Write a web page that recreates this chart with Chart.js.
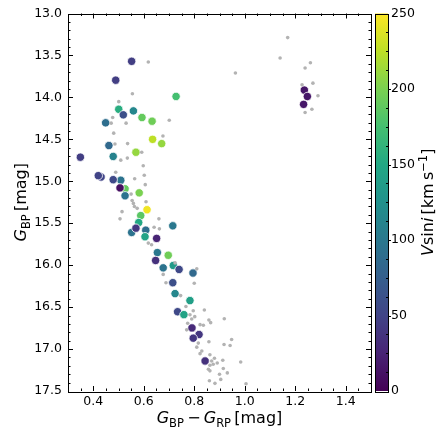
<!DOCTYPE html>
<html>
<head>
<meta charset="utf-8">
<script src="https://cdn.jsdelivr.net/npm/chart.js@4.4.1/dist/chart.umd.min.js"></script>
<style>
  html, body { margin: 0; padding: 0; background: #fff; }
  canvas { display: block; }
</style>
</head>
<body>
<canvas id="cmdChart" width="436" height="436"></canvas>
<script>
// axis ticks
const xTicks = [0.4, 0.6, 0.8, 1.0, 1.2, 1.4];
const yTicks = [13.0, 13.5, 14.0, 14.5, 15.0, 15.5, 16.0, 16.5, 17.0, 17.5];
const cbarTicks = [0, 50, 100, 150, 200, 250];

// field stars (grey)
const grayX = [0.618, 0.555, 0.501, 0.477, 0.701, 0.471, 0.530, 0.481, 0.676, 0.536,
    0.486, 0.592, 0.509, 0.535, 0.598, 0.489, 0.564, 0.602, 0.606, 0.550,
    0.609, 0.559, 0.554, 0.563, 0.574, 0.514, 0.506, 0.660, 0.641, 0.662,
    0.618, 0.631, 0.724, 0.677, 0.810, 0.800, 0.688, 0.746, 0.767, 0.796,
    0.840, 0.783, 0.802, 0.790, 0.774, 0.823, 0.858, 0.865, 0.919, 0.770,
    0.836, 0.816, 0.858, 0.810, 0.830, 0.823, 0.918, 0.942, 0.948, 0.862,
    0.869, 0.875, 0.891, 0.913, 0.862, 0.856, 0.862, 0.915, 0.931, 0.984,
    0.905, 0.860, 0.882, 1.005, 0.963, 1.170, 1.140, 1.260, 1.239, 1.270,
    1.227, 1.290, 1.266, 1.239, 0.900, 0.880];
const grayY = [13.579, 13.957, 14.051, 14.240, 14.272, 14.307, 14.307, 14.426, 14.461, 14.551,
    14.555, 14.654, 14.748, 14.724, 14.815, 14.893, 14.969, 14.929, 15.040, 15.153,
    15.244, 15.264, 15.230, 15.300, 15.323, 15.362, 15.448, 15.448, 15.548, 15.567,
    15.737, 15.756, 15.973, 16.110, 16.044, 16.216, 16.209, 16.363, 16.492, 16.543,
    16.535, 16.591, 16.614, 16.641, 16.693, 16.709, 16.653, 16.685, 16.638, 16.771,
    16.717, 16.929, 16.913, 16.977, 17.024, 17.055, 16.945, 16.957, 16.886, 17.067,
    17.142, 17.181, 17.166, 17.134, 17.193, 17.240, 17.260, 17.232, 17.284, 17.154,
    17.362, 17.378, 17.409, 17.414, 13.709, 13.287, 13.531, 13.587, 13.650, 13.830,
    13.850, 13.980, 14.142, 14.181, 17.300, 17.110];

// members with measured rotation (Vsini, km/s)
const starX = [0.431, 0.819, 0.526, 0.552, 0.489, 0.728, 0.501, 0.559, 0.519, 0.593,
    0.633, 0.449, 0.635, 0.671, 0.462, 0.569, 0.349, 0.479, 0.420, 0.509,
    0.479, 0.506, 0.526, 0.582, 0.613, 0.588, 0.580, 0.715, 0.552, 0.569,
    0.608, 0.605, 0.651, 0.654, 0.697, 0.647, 0.717, 0.677, 0.740, 0.795,
    0.715, 0.724, 0.783, 0.734, 0.759, 0.791, 0.796, 0.843, 1.236, 1.248,
    1.233];
const starY = [14.949, 16.827, 15.090, 13.570, 13.795, 13.989, 14.142, 14.161, 14.208, 14.240,
    14.284, 14.303, 14.500, 14.551, 14.574, 14.654, 14.713, 14.704, 14.933, 14.988,
    14.981, 15.079, 15.173, 15.138, 15.339, 15.409, 15.492, 15.531, 15.610, 15.559,
    15.583, 15.661, 15.681, 15.850, 15.882, 15.944, 16.004, 16.032, 16.051, 16.094,
    16.209, 16.339, 16.422, 16.555, 16.590, 16.748, 16.870, 17.142, 13.913, 13.989,
    14.083];
const starVsini = [50, 40, 190, 45, 45, 175, 155, 115, 60, 190,
    195, 90, 225, 210, 85, 210, 45, 110, 50, 95,
    55, 10, 95, 200, 245, 185, 150, 100, 95, 40,
    90, 145, 25, 100, 195, 35, 135, 95, 55, 85,
    60, 115, 140, 55, 145, 30, 40, 35, 15, 15,
    15];

const VMAX = 250;
const VIRIDIS = ['#440154', '#482475', '#414487', '#355f8d', '#2a788e', '#21918c',
    '#22a884', '#44bf70', '#7ad151', '#bddf26', '#fde725'];

function hexToRgb(h) {
    return [parseInt(h.slice(1, 3), 16), parseInt(h.slice(3, 5), 16), parseInt(h.slice(5, 7), 16)];
}

function viridis(t) {
    t = Math.max(0, Math.min(1, t));
    const f = t * (VIRIDIS.length - 1);
    const i = Math.min(Math.floor(f), VIRIDIS.length - 2);
    const a = hexToRgb(VIRIDIS[i]), b = hexToRgb(VIRIDIS[i + 1]);
    const k = f - i;
    const c = a.map((v, j) => Math.round(v + (b[j] - v) * k));
    return `rgb(${c[0]}, ${c[1]}, ${c[2]})`;
}

const FONT = "'DejaVu Sans', sans-serif";

// draw a row of text pieces (for sub/superscripts), centred on x
function drawRich(ctx, parts, x, y) {
    let total = 0;
    parts.forEach(p => { ctx.font = p.font; total += ctx.measureText(p.t).width; });
    let cx = x - total / 2;
    ctx.textAlign = 'left';
    ctx.textBaseline = 'alphabetic';
    parts.forEach(p => {
        ctx.font = p.font;
        ctx.fillText(p.t, cx, y + (p.dy || 0));
        cx += ctx.measureText(p.t).width;
    });
}

const main = `16px ${FONT}`;
const ital = `italic 16px ${FONT}`;
const small = `11.5px ${FONT}`;

const framePlugin = {
    id: 'frame',
    afterDraw(chart) {
        const ctx = chart.ctx;
        const a = chart.chartArea;
        const xs = chart.scales.x, ys = chart.scales.y;
        ctx.save();
        ctx.strokeStyle = '#000';
        ctx.lineWidth = 1;

        // inward ticks on all four sides
        ctx.beginPath();
        for (let i = 1; i < 24; i++) {
            const v = 0.3 + i * 0.05;
            const px = Math.round(xs.getPixelForValue(v)) + 0.5;
            const major = xTicks.some(t => Math.abs(t - v) < 1e-6);
            const len = major ? 5 : 2.5;
            ctx.moveTo(px, a.bottom); ctx.lineTo(px, a.bottom - len);
            ctx.moveTo(px, a.top); ctx.lineTo(px, a.top + len);
        }
        for (let i = 1; i < 45; i++) {
            const v = 13 + i * 0.1;
            const py = Math.round(ys.getPixelForValue(v)) + 0.5;
            const major = yTicks.some(t => Math.abs(t - v) < 1e-6);
            const len = major ? 5 : 2.5;
            ctx.moveTo(a.left, py); ctx.lineTo(a.left + len, py);
            ctx.moveTo(a.right, py); ctx.lineTo(a.right - len, py);
        }
        ctx.stroke();
        ctx.strokeRect(Math.round(a.left) + 0.5, Math.round(a.top) + 0.5,
            Math.round(a.right - a.left), Math.round(a.bottom - a.top));

        // colour bar
        const cbL = 375, cbR = 388;
        const cbY = v => a.bottom - (v / VMAX) * (a.bottom - a.top);
        const grad = ctx.createLinearGradient(0, a.bottom, 0, a.top);
        VIRIDIS.forEach((c, i) => grad.addColorStop(i / (VIRIDIS.length - 1), c));
        ctx.fillStyle = grad;
        ctx.fillRect(cbL, a.top, cbR - cbL, a.bottom - a.top);
        ctx.strokeRect(cbL + 0.5, Math.round(a.top) + 0.5, cbR - cbL, Math.round(a.bottom - a.top));
        ctx.beginPath();
        for (let v = 12.5; v < VMAX; v += 12.5) {
            const py = Math.round(cbY(v)) + 0.5;
            if (v % 50 === 0) {
                ctx.moveTo(cbR, py); ctx.lineTo(cbR + 3, py);
            } else {
                ctx.moveTo(cbR, py); ctx.lineTo(cbR - 2, py);
            }
        }
        ctx.stroke();
        ctx.fillStyle = '#000';
        ctx.font = `12.5px ${FONT}`;
        ctx.textAlign = 'left';
        ctx.textBaseline = 'middle';
        cbarTicks.forEach(v => ctx.fillText(String(v), 391, cbY(v)));

        // axis labels
        ctx.fillStyle = '#000';
        drawRich(ctx, [
            { t: 'G', font: ital }, { t: 'BP', font: small, dy: 3.5 },
            { t: '\u2009\u2212\u2009', font: main }, { t: 'G', font: ital }, { t: 'RP', font: small, dy: 3.5 },
            { t: '\u2009[mag]', font: main }
        ], (a.left + a.right) / 2, 423);

        ctx.save();
        ctx.translate(26, (a.top + a.bottom) / 2);
        ctx.rotate(-Math.PI / 2);
        drawRich(ctx, [
            { t: 'G', font: ital }, { t: 'BP', font: small, dy: 3.5 }, { t: '\u2009[mag]', font: main }
        ], 0, 0);
        ctx.restore();

        ctx.save();
        ctx.translate(433, (a.top + a.bottom) / 2);
        ctx.rotate(-Math.PI / 2);
        drawRich(ctx, [
            { t: 'V', font: ital }, { t: 'sin', font: main }, { t: 'i', font: ital },
            { t: '\u2009[km\u2009s', font: main }, { t: '\u22121', font: small, dy: -6 }, { t: ']', font: main }
        ], 0, 0);
        ctx.restore();

        ctx.restore();
    }
};

const grayPoints = grayX.map((x, i) => ({ x: x, y: grayY[i] }));
const starPoints = starX.map((x, i) => ({ x: x, y: starY[i] }));
const starColors = starVsini.map(v => viridis(v / VMAX));

new Chart(document.getElementById('cmdChart').getContext('2d'), {
    type: 'scatter',
    data: {
        datasets: [{
            data: grayPoints,
            pointRadius: 1.8,
            backgroundColor: '#b3b3b3',
            borderWidth: 0
        }, {
            data: starPoints,
            pointRadius: 4.2,
            backgroundColor: starColors,
            borderColor: '#ffffff',
            borderWidth: 0.8
        }]
    },
    options: {
        responsive: false,
        animation: false,
        layout: { padding: { top: 10, right: 65, left: 0, bottom: 0 } },
        plugins: {
            legend: { display: false },
            tooltip: { enabled: false }
        },
        scales: {
            x: {
                type: 'linear',
                min: 0.3,
                max: 1.5,
                afterBuildTicks: s => { s.ticks = xTicks.map(v => ({ value: v })); },
                afterFit: s => { s.height = 45; },
                grid: { display: false, drawTicks: false },
                border: { display: false },
                ticks: {
                    color: '#000',
                    padding: 3,
                    maxRotation: 0,
                    font: { family: FONT, size: 12.5 },
                    callback: v => v.toFixed(1)
                }
            },
            y: {
                type: 'linear',
                reverse: true,
                min: 13,
                max: 17.5,
                afterBuildTicks: s => { s.ticks = yTicks.map(v => ({ value: v })); },
                afterFit: s => { s.width = 68; },
                grid: { display: false, drawTicks: false },
                border: { display: false },
                ticks: {
                    color: '#000',
                    padding: 6,
                    font: { family: FONT, size: 12.5 },
                    callback: v => v.toFixed(1)
                }
            }
        }
    },
    plugins: [framePlugin]
});
</script>
</body>
</html>
